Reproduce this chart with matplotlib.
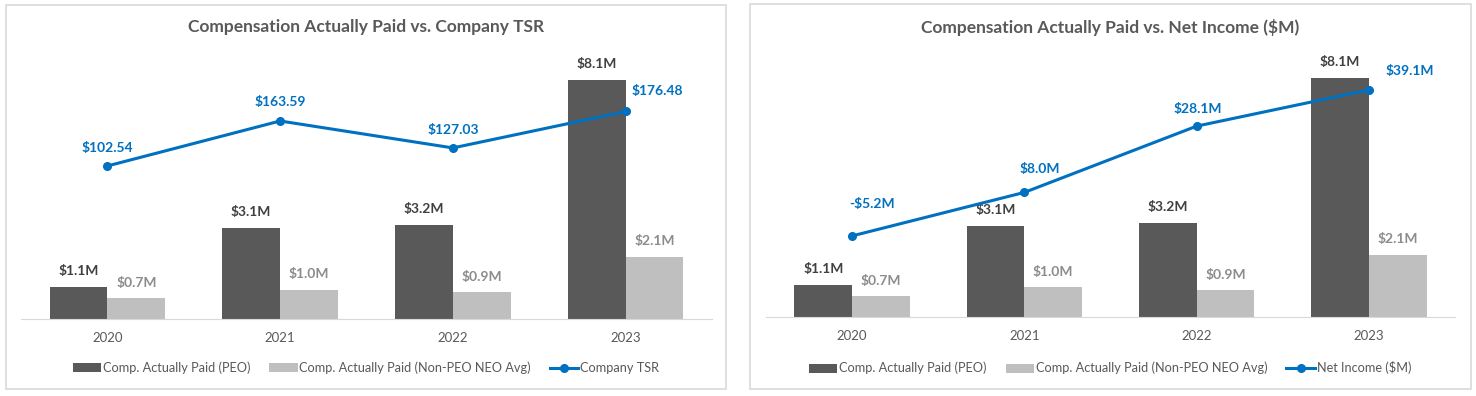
import matplotlib
matplotlib.use("Agg")
import matplotlib.pyplot as plt
from matplotlib.patches import Rectangle

plt.rcParams['font.family'] = ['Lato', 'DejaVu Sans']

years = ['2020', '2021', '2022', '2023']
peo_cap = [1.1, 3.1, 3.2, 8.1]
neo_cap = [0.7, 1.0, 0.9, 2.1]
company_tsr = [102.54, 163.59, 127.03, 176.48]
net_income = [-5.2, 8.0, 28.1, 39.1]

tsr_labels = ['$102.54', '$163.59', '$127.03', '$176.48']
ni_labels = ['-$5.2M', '$8.0M', '$28.1M', '$39.1M']

DARK = '#595959'
LIGHT = '#BFBFBF'
BLUE = '#0070C0'
TXT = '#595959'

W, H = 1476, 396
fig = plt.figure(figsize=(W / 100, H / 100), dpi=100)


def px_axes(x0, y_top, x1, y_bot):
    return fig.add_axes([x0 / W, 1 - y_bot / H, (x1 - x0) / W, (y_bot - y_top) / H])


def panel(x0, y0, x1, y1):
    fig.patches.append(Rectangle((x0 / W, 1 - y1 / H), (x1 - x0) / W, (y1 - y0) / H,
                                 transform=fig.transFigure, fill=False,
                                 edgecolor='#D9D9D9', linewidth=1.2))


def draw(x0, x1, y_top, y_bot, title, line_vals, line_labels, line_name,
         ylim1, ylim2, offsets, cx):
    ax = px_axes(x0, y_top, x1, y_bot)
    x = range(len(years))
    w = 0.335
    b1 = ax.bar([i - w / 2 for i in x], peo_cap, w, color=DARK,
                label='Comp. Actually Paid (PEO)')
    b2 = ax.bar([i + w / 2 for i in x], neo_cap, w, color=LIGHT,
                label='Comp. Actually Paid (Non-PEO NEO Avg)')
    for i in x:
        ax.annotate(f'${peo_cap[i]:.1f}M', (i - w / 2, peo_cap[i]), xytext=(0, 7),
                    textcoords='offset points', ha='center', va='bottom',
                    fontsize=10, fontweight='bold', color='#404040')
        ax.annotate(f'${neo_cap[i]:.1f}M', (i + w / 2, neo_cap[i]), xytext=(0, 7),
                    textcoords='offset points', ha='center', va='bottom',
                    fontsize=10, fontweight='bold', color='#8C8C8C')
    ax.set_xlim(-0.5, 3.5)
    ax.set_ylim(*ylim1)
    ax.set_xticks(list(x))
    ax.set_xticklabels(years, fontsize=9.5, color=TXT)
    ax.tick_params(length=0, pad=9)
    ax.set_yticks([])
    for s in ['top', 'left', 'right']:
        ax.spines[s].set_visible(False)
    ax.spines['bottom'].set_color('#D9D9D9')

    ax2 = ax.twinx()
    l, = ax2.plot(list(x), line_vals, color=BLUE, linewidth=2.2, marker='o',
                  markersize=5.5, label=line_name)
    for i in x:
        ax2.annotate(line_labels[i], (i, line_vals[i]), xytext=offsets[i],
                     textcoords='offset pixels', ha='center', va='center',
                     fontsize=10, fontweight='bold', color=BLUE)
    ax2.set_ylim(*ylim2)
    ax2.axis('off')
    ax.set_xlim(-0.5, 3.5)

    fig.text(cx / W, 1 - 27 / H, title, ha='center', va='center',
             fontsize=12.5, fontweight='bold', color=TXT)
    fig.legend([b1, b2, l], [b1.get_label(), b2.get_label(), line_name],
               loc='center', bbox_to_anchor=(cx / W, 1 - 368 / H), ncol=3,
               frameon=False, fontsize=9.2, labelcolor=TXT, handlelength=2.2,
               handleheight=0.7, handletextpad=0.15, columnspacing=1.5)


panel(6, 5, 726, 389)
panel(750, 4, 1471, 389)

draw(21, 712, 50, 319, 'Compensation Actually Paid vs. Company TSR',
     company_tsr, tsr_labels, 'Company TSR',
     (0, 9.12), (-105.1, 259.9),
     [(0, 18), (0, 19), (0, 18), (32, 20)], 366)

draw(766, 1455, 50, 317, 'Compensation Actually Paid vs. Net Income ($M)',
     net_income, ni_labels, 'Net Income ($M)',
     (0, 9.05), (-29.8, 51.2),
     [(20, 32), (15, 23), (1, 17), (41, 19)], 1110)

fig.savefig('out.png', dpi=100)
